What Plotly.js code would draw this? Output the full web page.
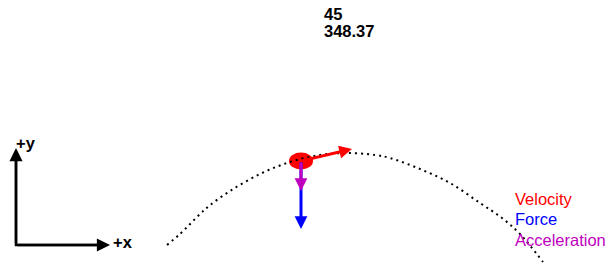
<!DOCTYPE html>
<html>
<head>
<meta charset="utf-8">
<script src="https://cdn.plot.ly/plotly-3.0.1.min.js"></script>
<style>html,body{margin:0;padding:0;background:#fff;}#chart{width:608px;height:265px;}</style>
</head>
<body>
<div id="chart"></div>
<script>
// Trajectory points (x, height)
var trajX = [167, 180, 200, 209, 230, 260, 290, 320, 345, 375, 390, 420, 450, 480, 502, 520, 543];
var trajY = [20, 31, 51, 59, 74, 91, 103, 110, 112, 110, 107, 96, 82, 62, 47, 31, 3];

// Projectile state
var ballX = [301];
var ballY = [104];
var ballW = [24];
var ballH = [17];
var velocityTip = [352, 116];
var forceTip = [301, 36];
var accelTip = [301, 74];

// Header values
var angleValue = "45";
var rangeValue = "348.37";

// Reference axes indicator
var originXY = [16, 20];
var plusYTip = [16, 117];
var plusXTip = [110, 20];

var legendLabels = ["Velocity", "Force", "Acceleration"];
var legendColors = ["#ff0000", "#0000ff", "#bf00bf"];

var font = "Liberation Sans, Arial, Helvetica, sans-serif";

function arrow(tail, tip, color, width, size) {
  return {
    x: tip[0], y: tip[1], ax: tail[0], ay: tail[1],
    xref: 'x', yref: 'y', axref: 'x', ayref: 'y',
    text: '', showarrow: true, arrowhead: 2,
    arrowcolor: color, arrowwidth: width, arrowsize: size,
    standoff: 0, startstandoff: 0
  };
}

var ballC = [ballX[0], ballY[0]];

var traces = [
  {
    x: [plusYTip[0], originXY[0], plusXTip[0] - 6],
    y: [plusYTip[1] - 6, originXY[1], plusXTip[1]],
    mode: 'lines', line: {color: '#000', width: 2.5},
    hoverinfo: 'skip', showlegend: false
  },
  {
    x: trajX, y: trajY, mode: 'lines',
    line: {color: '#000', width: 2, dash: '2px,4px', shape: 'spline'},
    hoverinfo: 'skip', showlegend: false
  }
];

var annotations = [
  arrow(ballC, forceTip, legendColors[1], 3, 0.85),
  arrow(ballC, accelTip, legendColors[2], 3, 0.85),
  arrow(ballC, velocityTip, legendColors[0], 3, 0.85),
  arrow(originXY, plusYTip, '#000', 2.5, 1.05),
  arrow(originXY, plusXTip, '#000', 2.5, 1.05),
  {x: plusYTip[0] - 2, y: plusYTip[1] + 5, xref: 'x', yref: 'y', text: '<b>+y</b>', showarrow: false,
   xanchor: 'left', yanchor: 'middle', font: {family: font, size: 16.5, color: '#000'}},
  {x: plusXTip[0] + 1, y: plusXTip[1] + 3, xref: 'x', yref: 'y', text: '<b>+x</b>', showarrow: false,
   xanchor: 'left', yanchor: 'middle', font: {family: font, size: 16.5, color: '#000'}},
  {x: 322, y: 251, xref: 'x', yref: 'y', text: '<b>' + angleValue + '</b>', showarrow: false,
   xanchor: 'left', yanchor: 'middle', font: {family: font, size: 16.5, color: '#000'}},
  {x: 322, y: 234, xref: 'x', yref: 'y', text: '<b>' + rangeValue + '</b>', showarrow: false,
   xanchor: 'left', yanchor: 'middle', font: {family: font, size: 16.5, color: '#000'}}
];

var legendY = [66, 46, 25];
for (var i = 0; i < legendLabels.length; i++) {
  annotations.push({x: 513, y: legendY[i], xref: 'x', yref: 'y', text: legendLabels[i], showarrow: false,
    xanchor: 'left', yanchor: 'middle', font: {family: font, size: 16.5, color: legendColors[i]}});
}

var layout = {
  width: 608, height: 265,
  margin: {l: 0, r: 0, t: 0, b: 0},
  paper_bgcolor: '#fff', plot_bgcolor: '#fff',
  xaxis: {range: [0, 608], visible: false, fixedrange: true},
  yaxis: {range: [0, 265], visible: false, fixedrange: true},
  showlegend: false,
  shapes: [{
    type: 'circle', xref: 'x', yref: 'y', layer: 'below',
    x0: ballX[0] - ballW[0] / 2, x1: ballX[0] + ballW[0] / 2,
    y0: ballY[0] - ballH[0] / 2, y1: ballY[0] + ballH[0] / 2,
    fillcolor: '#ff0000', line: {width: 0}
  }],
  annotations: annotations
};

Plotly.newPlot('chart', traces, layout, {displayModeBar: false, staticPlot: true});
</script>
</body>
</html>
